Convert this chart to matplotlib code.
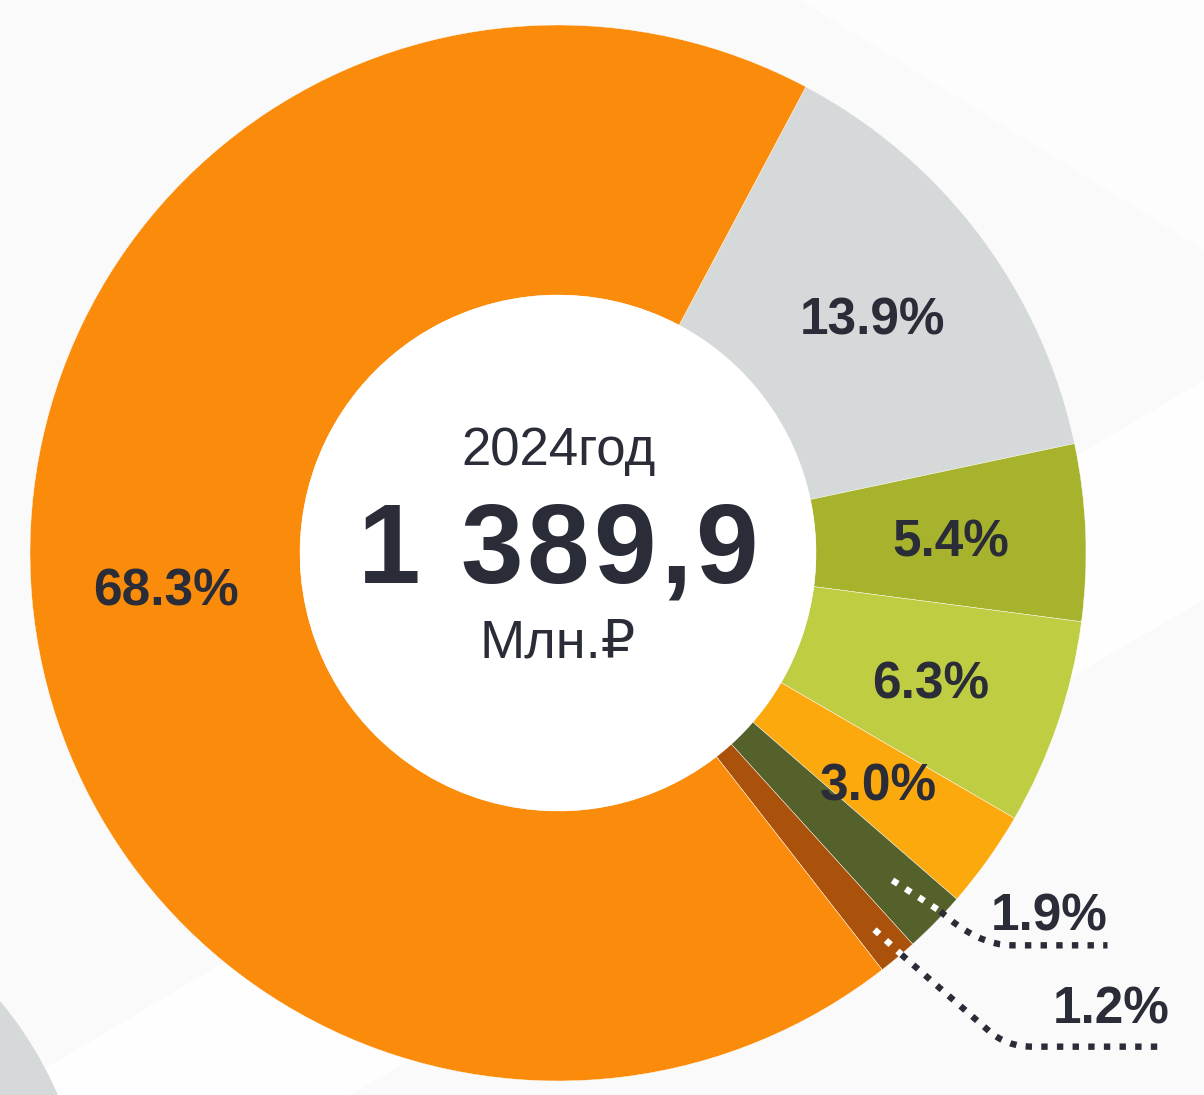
import matplotlib
matplotlib.use("Agg")
import matplotlib.pyplot as plt
from matplotlib.patches import Circle, Polygon, PathPatch
from matplotlib.path import Path
from matplotlib.font_manager import FontProperties
import numpy as np

# ---- data ----
shares = [13.9, 5.4, 6.3, 3.0, 1.9, 1.2, 68.3]
labels = ["13.9%", "5.4%", "6.3%", "3.0%", "1.9%", "1.2%", "68.3%"]
colors = ["#D5D9D9", "#A7B22D", "#BFCD43", "#FCA90D", "#55612A", "#AA520B", "#FB8C0B"]
year_text = "2024год"
total_text = "1 389,9"
unit_text = "Млн.₽"

W, H = 1204, 1095
fig = plt.figure(figsize=(W / 100, H / 100), dpi=100)
fig.patch.set_facecolor("#FAFAFA")
ax = fig.add_axes([0, 0, 1, 1])
ax.set_facecolor("#FAFAFA")

def P(x, y):
    return (x, H - y)

# very faint background bands
ax.add_patch(Polygon([P(0, 1095), P(350, 1095), P(1204, 600), P(1204, 380)], closed=True,
                     facecolor="#FEFEFE", edgecolor="none", zorder=0))
ax.add_patch(Polygon([P(500, 0), P(1204, 0), P(1204, 250), P(800, 0)], closed=True,
                     facecolor="#FDFDFD", edgecolor="none", zorder=0))
# grey arc bottom-left
ax.add_patch(Circle(P(-300, 1250), 390, facecolor="#D5D9D9", edgecolor="none", zorder=1))

cx, cy = 558, 553
R_out, R_in = 528, 258
center = P(cx, cy)

wedges, _ = ax.pie(shares, colors=colors, startangle=62, counterclock=False,
                   radius=R_out, center=center,
                   wedgeprops=dict(width=R_out - R_in, edgecolor="#FFFFFF", linewidth=0.3),
                   frame=True)
for w in wedges:
    w.set_zorder(2)

ax.add_patch(Circle(center, R_in, facecolor="#FFFFFF", edgecolor="none", zorder=3))

txt_col = "#2A2C37"
lab_font = ["Liberation Sans", "DejaVu Sans"]
LFS = 37
half_cap = 0.358 * LFS * 100 / 72  # px, half of digit height
r_lab = 0.745 * R_out
for i, w in enumerate(wedges):
    mid = np.deg2rad((w.theta1 + w.theta2) / 2)
    if labels[i] in ("1.9%", "1.2%"):
        continue
    ax.text(center[0] + r_lab * np.cos(mid), center[1] + r_lab * np.sin(mid) - half_cap,
            labels[i], ha="center", va="baseline", fontsize=LFS, fontweight="bold",
            color=txt_col, family=lab_font, zorder=5)

DOT = (0, (1.0, 1.45))
LW = 4.6

def leader(i, r_start, white_pts, dark_pts, codes, text_xy):
    w = wedges[i]
    mid = np.deg2rad((w.theta1 + w.theta2) / 2)
    sx = center[0] + r_start * np.cos(mid)
    sy = center[1] + r_start * np.sin(mid)
    pts_w = [(sx, sy)] + [(sx + dx, sy - dy) for dx, dy in white_pts]
    ax.plot([p[0] for p in pts_w], [p[1] for p in pts_w], color="white", lw=LW,
            linestyle=DOT, dash_capstyle="butt", zorder=4)
    start = pts_w[-1]
    verts = [start] + [(sx + dx, sy - dy) for dx, dy in dark_pts]
    path = Path(verts, [Path.MOVETO] + codes)
    ax.add_patch(PathPatch(path, facecolor="none", edgecolor="#2A2C37", lw=LW,
                           linestyle=DOT, capstyle="butt", zorder=4))
    ax.text(sx + text_xy[0], sy - text_xy[1] - half_cap, labels[i], ha="right", va="baseline",
            fontsize=LFS, fontweight="bold", color=txt_col, family=lab_font, zorder=5)

leader(4, 468, [(48, 31)],
       [(85, 65), (120, 65), (215, 65)],
       [Path.CURVE3, Path.CURVE3, Path.LINETO],
       (215, 32))
leader(5, 492, [(27, 25)],
       [(113, 100), (131, 117), (158, 117), (285, 117)],
       [Path.LINETO, Path.CURVE3, Path.CURVE3, Path.LINETO],
       (295, 75))

# centre text
ax.text(cx, H - 465, year_text, ha="center", va="baseline", fontsize=38,
        color=txt_col, family=lab_font, zorder=6)
ax.text(cx, H - 658, unit_text, ha="center", va="baseline", fontsize=39,
        color=txt_col, family=lab_font, zorder=6)

# big total with slight letter spacing
big_fp = FontProperties(family=lab_font, weight="bold", size=81)
renderer = fig.canvas.get_renderer()
def tw(s):
    if not s:
        return 0.0
    w_, h_, d_ = renderer.get_text_width_height_descent(s.replace(" ", "\u00a0"), big_fp, ismath=False)
    return w_
spacing = 4.0
n = len(total_text)
total_w = tw(total_text) + spacing * (n - 1)
x0 = cx - total_w / 2
for k, ch in enumerate(total_text):
    if ch == " ":
        continue
    ax.text(x0 + tw(total_text[:k]) + spacing * k, H - 583, ch, ha="left", va="baseline",
            fontproperties=big_fp, color=txt_col, zorder=6)

ax.set_xlim(0, W)
ax.set_ylim(0, H)
ax.set_aspect("auto")
ax.axis("off")
fig.savefig("out.png", dpi=100, facecolor=fig.get_facecolor())
